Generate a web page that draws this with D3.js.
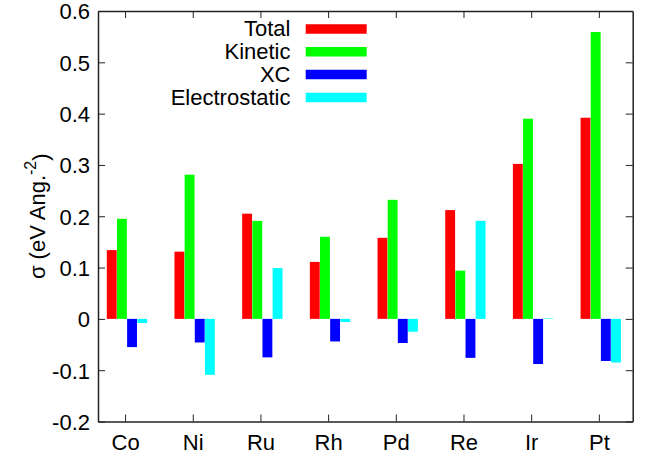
<!DOCTYPE html>
<html>
<head>
<meta charset="utf-8">
<script src="https://cdn.jsdelivr.net/npm/d3@7"></script>
<style>
  html, body { margin: 0; padding: 0; background: #fff; }
  svg { display: block; font-family: "Liberation Sans", Arial, sans-serif; }
</style>
</head>
<body>
<svg id="chart" width="647" height="459"></svg>
<script>
const categories = ["Co", "Ni", "Ru", "Rh", "Pd", "Re", "Ir", "Pt"];
const seriesNames = ["Total", "Kinetic", "XC", "Electrostatic"];
const seriesColors = ["#ff0000", "#00ff00", "#0000ff", "#00ffff"];
const totalVals = [0.134, 0.131, 0.205, 0.111, 0.158, 0.212, 0.302, 0.392];
const kineticVals = [0.195, 0.281, 0.191, 0.160, 0.232, 0.094, 0.390, 0.559];
const xcVals = [-0.055, -0.046, -0.075, -0.044, -0.047, -0.076, -0.088, -0.082];
const electroVals = [-0.008, -0.109, 0.099, -0.006, -0.025, 0.191, 0.001, -0.085];
const yTicks = [-0.2, -0.1, 0, 0.1, 0.2, 0.3, 0.4, 0.5, 0.6];
const yLabelMain = "σ (eV Ang.";
const yLabelSup = "-2";
const yLabelEnd = ")";

const series = [totalVals, kineticVals, xcVals, electroVals];

(function () {
const W = 647, H = 459;
const margin = { left: 98, top: 11, right: 14.3, bottom: 37.5 };
const svg = d3.select("#chart");
const fs = 22;

const x = d3.scaleLinear().domain([-0.4, 7.5]).range([margin.left, W - margin.right]);
const y = d3.scaleLinear().domain([-0.2, 0.6]).range([H - margin.bottom, margin.top]);

const barW = 0.146, barStep = 0.15, groupStart = -0.27;

// bars
const g = svg.append("g");
series.forEach((vals, k) => {
  g.selectAll(null).data(vals).enter().append("rect")
    .attr("x", (d, i) => x(i + groupStart + k * barStep))
    .attr("width", x(barW) - x(0))
    .attr("y", d => y(Math.max(0, d)))
    .attr("height", d => Math.abs(y(d) - y(0)))
    .attr("fill", seriesColors[k]);
});

const tickLen = 7;
const fmt = v => String(+v.toFixed(1));

const axisColor = "#222";
function styleAxis(sel) {
  sel.selectAll("path").attr("stroke", axisColor).attr("stroke-width", 1.5);
  sel.selectAll("line").attr("stroke", axisColor).attr("stroke-width", 1);
  sel.selectAll("text").attr("fill", "#000").style("font-size", fs + "px")
    .style("font-family", '"Liberation Sans", Arial, sans-serif');
}

const leftAx = svg.append("g").attr("transform", `translate(${margin.left},0)`)
  .call(d3.axisLeft(y).tickValues(yTicks).tickFormat(fmt).tickSize(-tickLen).tickSizeOuter(0).tickPadding(8));
styleAxis(leftAx);
leftAx.selectAll("text").attr("dy", "0.36em");

const rightAx = svg.append("g").attr("transform", `translate(${W - margin.right},0)`)
  .call(d3.axisRight(y).tickValues(yTicks).tickFormat("").tickSize(-tickLen).tickSizeOuter(0));
styleAxis(rightAx);

const bottomAx = svg.append("g").attr("transform", `translate(0,${H - margin.bottom})`)
  .call(d3.axisBottom(x).tickValues(d3.range(categories.length)).tickFormat(i => categories[i])
    .tickSize(-tickLen).tickSizeOuter(0).tickPadding(13));
styleAxis(bottomAx);

const topAx = svg.append("g").attr("transform", `translate(0,${margin.top})`)
  .call(d3.axisTop(x).tickValues(d3.range(categories.length)).tickFormat("")
    .tickSize(-tickLen).tickSizeOuter(0));
styleAxis(topAx);

// y label
const yl = svg.append("text")
  .attr("transform", `translate(37,${(margin.top + H - margin.bottom) / 2}) rotate(-90)`)
  .attr("text-anchor", "middle")
  .attr("dominant-baseline", "central")
  .style("font-size", fs + "px")
  .attr("fill", "#000");
yl.append("tspan").text(yLabelMain);
yl.append("tspan").text(yLabelSup).attr("dy", "-0.45em").style("font-size", "16px");
yl.append("tspan").text(yLabelEnd).attr("dy", "0.45em");

// legend
const legY0 = 29, legDy = 22.8;
const leg = svg.append("g");
seriesNames.forEach((name, k) => {
  const yy = legY0 + k * legDy;
  leg.append("text").attr("x", 290.5).attr("y", yy)
    .attr("text-anchor", "end").attr("dy", "0.34em")
    .style("font-size", fs + "px").attr("fill", "#000").text(name);
  leg.append("line").attr("x1", 305.7).attr("x2", 366.7).attr("y1", yy).attr("y2", yy)
    .attr("stroke", seriesColors[k]).attr("stroke-width", 9.5);
});
})();
</script>
</body>
</html>
